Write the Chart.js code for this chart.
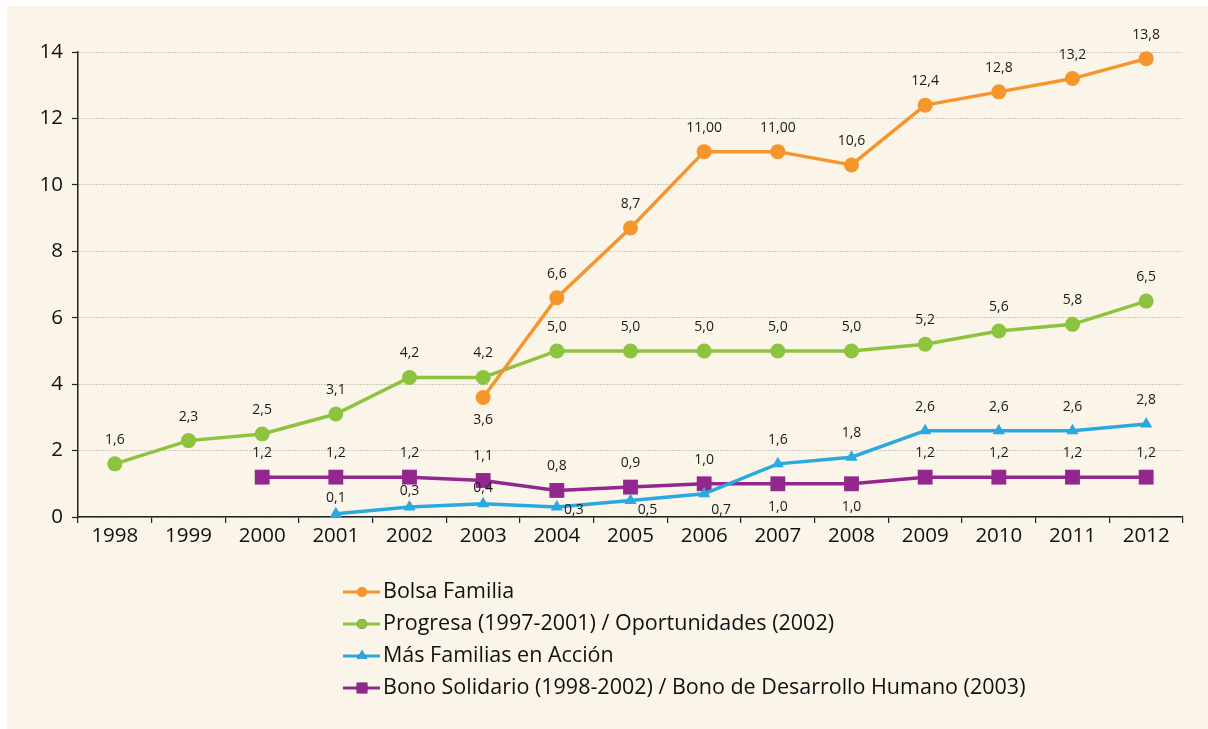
<!DOCTYPE html>
<html>
<head>
<meta charset="utf-8">
<script src="https://cdn.jsdelivr.net/npm/chart.js@4.4.1/dist/chart.umd.min.js"></script>
<style>
  html, body { margin: 0; padding: 0; background: #fff; }
  #wrap { width: 1208px; height: 729px; position: relative; }
</style>
</head>
<body>
<div id="wrap"><canvas id="programs-chart" width="1208" height="729"></canvas></div>
<script>
(function () {
    // years and series values (millions of families)
    var years = ['1998', '1999', '2000', '2001', '2002', '2003', '2004', '2005', '2006', '2007', '2008', '2009', '2010', '2011', '2012'];
    var bolsaFamilia = [null, null, null, null, null, 3.6, 6.6, 8.7, 11.0, 11.0, 10.6, 12.4, 12.8, 13.2, 13.8];
    var progresa = [1.6, 2.3, 2.5, 3.1, 4.2, 4.2, 5.0, 5.0, 5.0, 5.0, 5.0, 5.2, 5.6, 5.8, 6.5];
    var masFamilias = [null, null, null, 0.1, 0.3, 0.4, 0.3, 0.5, 0.7, 1.6, 1.8, 2.6, 2.6, 2.6, 2.8];
    var bonoSolidario = [null, null, 1.2, 1.2, 1.2, 1.1, 0.8, 0.9, 1.0, 1.0, 1.0, 1.2, 1.2, 1.2, 1.2];
    var yTicks = [0, 2, 4, 6, 8, 10, 12, 14];

    // label texts as printed (Bolsa uses "11,00")
    var bolsaLabels = [null, null, null, null, null, '3,6', '6,6', '8,7', '11,00', '11,00', '10,6', '12,4', '12,8', '13,2', '13,8'];

    // where each value label sits relative to its point
    var bolsaPlace = ['a', 'a', 'a', 'a', 'a', 'b', 'a', 'a', 'a', 'a', 'a', 'a', 'a', 'a', 'a'];
    var progresaPlace = ['a', 'a', 'a', 'a', 'a', 'a', 'a', 'a', 'a', 'a', 'a', 'a', 'a', 'a', 'a'];
    var masPlace = ['a', 'a', 'a', 'n', 'n', 'n', 'r', 'r', 'r', 'a', 'a', 'a', 'a', 'a', 'a'];
    var bonoPlace = ['a', 'a', 'a', 'a', 'a', 'a', 'a', 'a', 'a', 'b', 'b', 'a', 'a', 'a', 'a'];

    var FONT = "'Open Sans', 'DejaVu Sans', sans-serif";

    function fmt(v) {
        return v.toFixed(1).replace('.', ',');
    }

    var panelBackground = {
        id: 'panelBackground',
        beforeDraw: function (chart) {
            var ctx = chart.ctx;
            ctx.save();
            ctx.fillStyle = '#ffffff';
            ctx.fillRect(0, 0, chart.width, chart.height);
            ctx.fillStyle = '#fbf4e9';
            ctx.fillRect(7, 6, chart.width - 7, chart.height - 6);
            ctx.restore();
        }
    };

    var valueLabels = {
        id: 'valueLabels',
        afterDatasetsDraw: function (chart) {
            var ctx = chart.ctx;
            var bottom = chart.chartArea.bottom;
            ctx.save();
            ctx.font = '14px ' + FONT;
            ctx.fillStyle = '#1a1a1a';
            ctx.textAlign = 'center';
            ctx.textBaseline = 'middle';
            chart.data.datasets.forEach(function (ds, di) {
                var meta = chart.getDatasetMeta(di);
                meta.data.forEach(function (pt, i) {
                    var v = ds.data[i];
                    if (v === null || v === undefined) return;
                    var txt = ds.valueText ? ds.valueText[i] : fmt(v);
                    var place = ds.labelPlace[i];
                    var x = pt.x, y = pt.y;
                    if (place === 'a') {
                        y = pt.y - 24;
                    } else if (place === 'n') {
                        y = pt.y - 16;
                    } else if (place === 'b') {
                        y = pt.y + 23;
                    } else if (place === 'r') {
                        x = pt.x + 17;
                        y = bottom - 7;
                    }
                    ctx.fillText(txt, x, y);
                });
            });
            ctx.restore();
        }
    };

    var listLegend = {
        id: 'listLegend',
        afterDraw: function (chart) {
            var ctx = chart.ctx;
            var x0 = 343, rowTop = 592, rowGap = 32;
            ctx.save();
            ctx.font = '21.5px ' + FONT;
            ctx.textBaseline = 'middle';
            ctx.textAlign = 'left';
            chart.data.datasets.forEach(function (ds, i) {
                var y = rowTop + i * rowGap;
                ctx.strokeStyle = ds.borderColor;
                ctx.lineWidth = 3;
                ctx.beginPath();
                ctx.moveTo(x0, y);
                ctx.lineTo(x0 + 37, y);
                ctx.stroke();
                Chart.helpers.drawPoint(ctx, {
                    pointStyle: ds.pointStyle,
                    radius: ds.pointStyle === 'rect' ? 7.5 : (ds.pointStyle === 'triangle' ? 6 : 5),
                    borderWidth: 0,
                    rotation: 0
                }, x0 + 19, y);
                ctx.fillStyle = ds.borderColor;
                ctx.fill();
                ctx.fillStyle = '#111';
                ctx.fillText(ds.label, x0 + 40, y);
            });
            ctx.restore();
        }
    };

    function series(label, data, color, style, radius, place, text) {
        return {
            label: label,
            data: data,
            borderColor: color,
            backgroundColor: color,
            pointBackgroundColor: color,
            pointBorderColor: color,
            pointBorderWidth: 0,
            pointStyle: style,
            pointRadius: radius,
            pointHoverRadius: radius,
            borderWidth: 3.5,
            tension: 0,
            clip: false,
            labelPlace: place,
            valueText: text
        };
    }

    var context = document.getElementById('programs-chart').getContext('2d');
    new Chart(context, {
        type: 'line',
        data: {
            labels: years,
            datasets: [
                series('Bolsa Familia', bolsaFamilia, '#f5962d', 'circle', 7.5, bolsaPlace, bolsaLabels),
                series('Progresa (1997-2001) / Oportunidades (2002)', progresa, '#8cc440', 'circle', 7.5, progresaPlace),
                series('Más Familias en Acción', masFamilias, '#2aa9e0', 'triangle', 7, masPlace),
                series('Bono Solidario (1998-2002) / Bono de Desarrollo Humano (2003)', bonoSolidario, '#92288e', 'rect', 10.5, bonoPlace)
            ]
        },
        options: {
            responsive: false,
            animation: false,
            devicePixelRatio: 1,
            layout: { padding: { top: 52, right: 25, bottom: 172, left: 0 } },
            plugins: {
                legend: { display: false },
                tooltip: { enabled: false }
            },
            scales: {
                x: {
                    offset: true,
                    afterFit: function (scale) { scale.height = 40; },
                    grid: { display: true, drawOnChartArea: false, drawTicks: true, tickLength: 6, color: '#222', lineWidth: 1.2, offset: true },
                    border: { display: true, color: '#222', width: 1.5 },
                    ticks: { color: '#111', font: { family: FONT, size: 20.5 }, padding: 1, maxRotation: 0, autoSkip: false }
                },
                y: {
                    min: 0,
                    max: 14,
                    afterFit: function (scale) { scale.width = 78; },
                    afterBuildTicks: function (scale) {
                        scale.ticks = yTicks.map(function (v) { return { value: v }; });
                    },
                    grid: { color: '#9a9a9a', lineWidth: 1, drawTicks: true, tickLength: 6, tickColor: '#222', tickWidth: 1.2, tickBorderDash: [] },
                    border: { display: true, color: '#222', width: 1.5, dash: [1, 2] },
                    ticks: { color: '#111', font: { family: FONT, size: 20.5 }, padding: 9 }
                }
            }
        },
        plugins: [panelBackground, valueLabels, listLegend]
    });
})();
</script>
</body>
</html>
